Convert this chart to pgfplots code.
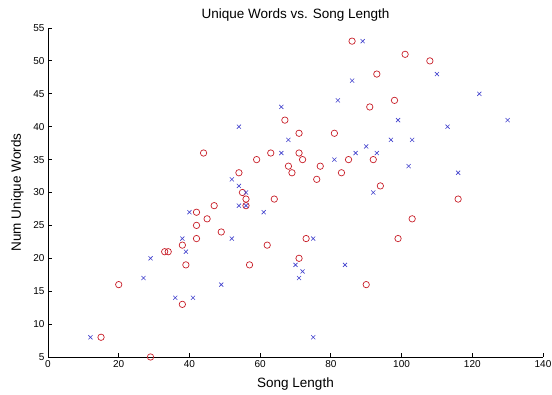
\documentclass[border=0pt]{standalone}
\usepackage{pgfplots}
\pgfplotsset{compat=1.18}
\usepackage{fontspec}
\setmainfont{Liberation Sans}
\definecolor{mred}{RGB}{200,30,40}
\definecolor{mblue}{RGB}{65,65,205}
\begin{document}
\begin{tikzpicture}
\path[use as bounding box] (-48pt,-38pt) rectangle (504pt,357pt);
\begin{axis}[
  at={(0pt,0pt)}, anchor=south west,
  scale only axis, width=495pt, height=329pt,
  xmin=0, xmax=140, ymin=5, ymax=55,
  xtick={0,20,...,140}, ytick={5,10,...,55},
  axis lines=left, axis line style={-, line width=0.8pt},
  tick align=inside, major tick length=4pt,
  tick style={black, line width=0.8pt},
  /pgf/number format/assume math mode=true,
  tick label style={font=\fontsize{10}{12}\selectfont},
  title={Unique Words vs. Song Length},
  title style={font=\fontsize{13.5}{16}\selectfont, at={(axis description cs:0.5,1.01)}, anchor=base, inner sep=0pt},
  xlabel={Song Length},
  xlabel style={font=\fontsize{13.5}{16}\selectfont, at={(axis description cs:0.5,-0.062)}, anchor=north, inner sep=0pt},
  ylabel={Num Unique Words},
  ylabel style={font=\fontsize{13.5}{16}\selectfont, at={(axis description cs:-0.062,0.5)}, anchor=center, inner sep=0pt},
]
\addplot[only marks, mark=o, mark size=3.2pt, mark options={draw=mred, line width=0.7pt}] coordinates {
(15,8) (20,16) (29,5) (33,21) (34,21) (38,22) (39,19) (38,13) (42,27) (42,25)
(42,23) (45,26) (44,36) (47,28) (49,24) (54,33) (55,30) (56,29) (56,28) (57,19)
(59,35) (62,22) (63,36) (64,29) (67,41) (68,34) (69,33) (71,39) (71,36) (72,35)
(71,20) (73,23) (76,32) (77,34) (81,39) (83,33) (85,35) (86,53) (90,16) (91,43)
(92,35) (93,48) (94,31) (98,44) (99,23) (101,51) (103,26) (108,50) (116,29)
};
\addplot[only marks, mark=x, mark size=2.9pt, mark options={draw=mblue, line width=0.6pt}] coordinates {
(12,8) (27,17) (29,20) (36,14) (41,14) (38,23) (39,21) (40,27) (49,16) (52,32)
(52,23) (54,31) (54,40) (54,28) (56,30) (56,28) (61,27) (66,43) (66,36) (68,38)
(70,19) (71,17) (72,18) (75,23) (75,8) (81,35) (82,44) (84,19) (86,47) (87,36)
(89,53) (90,37) (92,30) (93,36) (97,38) (99,41) (102,34) (103,38) (110,48) (113,40)
(116,33) (122,45) (130,41)
};
\end{axis}
\end{tikzpicture}
\end{document}
